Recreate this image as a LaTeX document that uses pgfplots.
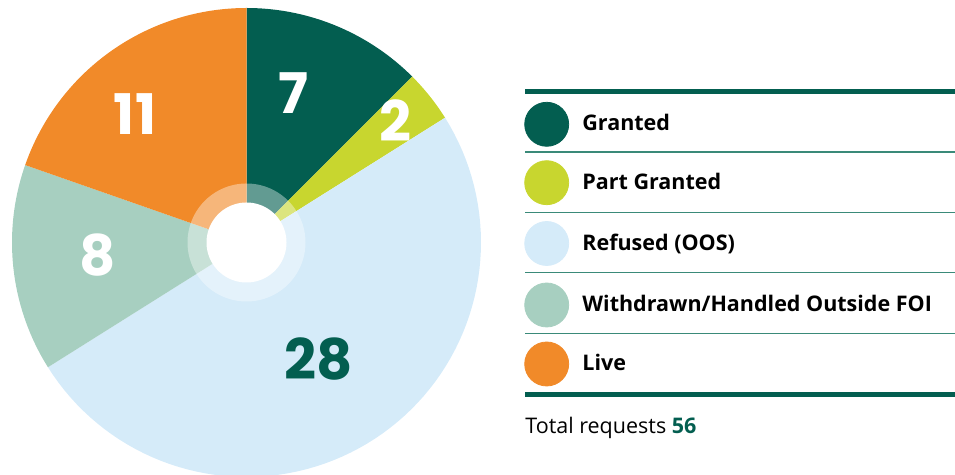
\documentclass[border=0pt]{standalone}
\usepackage{fontspec}
\setmainfont{Open Sans}
\newfontfamily\pop{Poppins}
\usepackage{pgfplots}
\pgfplotsset{compat=1.18}
\definecolor{cGranted}{HTML}{035E50}
\definecolor{cPart}{HTML}{C8D62F}
\definecolor{cRefused}{HTML}{D5EBF9}
\definecolor{cWithdrawn}{HTML}{A7CFC0}
\definecolor{cLive}{HTML}{F18A29}
\definecolor{cRule}{HTML}{3A8A79}
% values: Granted 7, Part Granted 2, Refused 28, Withdrawn 8, Live 11 (total 56)
\def\cx{246.5}\def\cy{-242.5}\def\R{234.5}
\newcommand{\slice}[3]{% start-cum, value, color
  \pgfmathsetmacro{\angA}{90-(360/56)*(#1+#2)}%
  \pgfmathsetmacro{\angB}{90-(360/56)*(#1)}%
  \edef\temp{\noexpand\addplot[fill=#3, draw=none, domain=\angA:\angB, samples=80, variable=\noexpand\t]
    ({\cx+\R*cos(\noexpand\t)}, {\cy+\R*sin(\noexpand\t)}) -- (axis cs:\cx,\cy) -- cycle;}%
  \temp
}
\begin{document}
\begin{tikzpicture}
\begin{axis}[
  scale only axis, width=477.5pt, height=237.5pt,
  xmin=0, xmax=955, ymin=-475, ymax=0,
  hide axis, clip=true,
]
\path (axis cs:0,0) rectangle (axis cs:955,-475);
\slice{0}{7}{cGranted}
\slice{7}{2}{cPart}
\slice{9}{28}{cRefused}
\slice{37}{8}{cWithdrawn}
\slice{45}{11}{cLive}
% centre hole
\addplot[fill=white, fill opacity=0.38, draw=none, domain=0:360, samples=120, variable=\t]
  ({\cx+59*cos(\t)}, {\cy+59*sin(\t)}) -- cycle;
\addplot[fill=white, draw=none, domain=0:360, samples=120, variable=\t]
  ({\cx+40*cos(\t)}, {\cy+40*sin(\t)}) -- cycle;
% slice labels
\node[inner sep=0, text=white, font=\pop\bfseries\fontsize{28}{30}\selectfont] at (axis cs:293,-93) {7};
\node[inner sep=0, text=white, font=\pop\bfseries\fontsize{28}{30}\selectfont] at (axis cs:395.5,-120.5) {2};
\node[inner sep=0, text=cGranted, font=\pop\bfseries\fontsize{28}{30}\selectfont] at (axis cs:319,-358.7) {28};
\node[inner sep=0, text=white, font=\pop\bfseries\fontsize{28}{30}\selectfont] at (axis cs:135,-114) {11};
\node[inner sep=0, text=white, font=\pop\bfseries\fontsize{28}{30}\selectfont] at (axis cs:98,-255) {8};
% legend rules
\draw[cGranted, line width=2.5pt] (axis cs:525,-91.5) -- (axis cs:955,-91.5);
\draw[cGranted, line width=2.5pt] (axis cs:525,-394.3) -- (axis cs:955,-394.3);
\draw[cRule, line width=0.7pt] (axis cs:525,-152) -- (axis cs:955,-152);
\draw[cRule, line width=0.7pt] (axis cs:525,-212.7) -- (axis cs:955,-212.7);
\draw[cRule, line width=0.7pt] (axis cs:525,-272.8) -- (axis cs:955,-272.8);
\draw[cRule, line width=0.7pt] (axis cs:525,-333.3) -- (axis cs:955,-333.3);
% legend markers
\addplot[only marks, mark=*, mark size=11pt, color=cGranted] coordinates {(546.7,-124.3)};
\addplot[only marks, mark=*, mark size=11pt, color=cPart] coordinates {(546.7,-182.7)};
\addplot[only marks, mark=*, mark size=11pt, color=cRefused] coordinates {(546.7,-243.5)};
\addplot[only marks, mark=*, mark size=11pt, color=cWithdrawn] coordinates {(546.7,-305)};
\addplot[only marks, mark=*, mark size=11pt, color=cLive] coordinates {(546.7,-364)};
% legend text
\begin{scope}[every node/.style={inner sep=0, anchor=base west, font=\bfseries\fontsize{10.75}{13}\selectfont}]
\node at (axis cs:582,-131) {Granted};
\node at (axis cs:582,-189.5) {Part Granted};
\node at (axis cs:582,-250.3) {Refused (OOS)};
\node at (axis cs:582,-311.8) {Withdrawn/Handled Outside FOI};
\node at (axis cs:582,-370.8) {Live};
\end{scope}
\node[inner sep=0, anchor=base west, font=\fontsize{10.75}{13}\selectfont] at (axis cs:525,-434)
  {Total requests \textcolor{cGranted}{\bfseries 56}};
\end{axis}
\end{tikzpicture}
\end{document}
